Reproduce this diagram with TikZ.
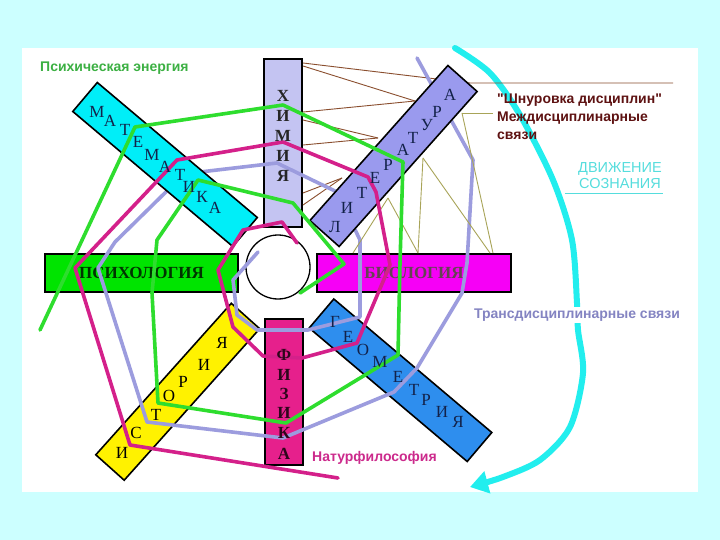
\documentclass[tikz,border=0pt]{standalone}
\usepackage{fontspec}
\setmainfont{Liberation Serif}
\newfontfamily\lsans{Liberation Sans}
\usetikzlibrary{arrows.meta}
\definecolor{bgcyan}{HTML}{CCFFFF}
\definecolor{himcol}{HTML}{C4C4F2}
\definecolor{litcol}{HTML}{9A9AEE}
\definecolor{matcol}{HTML}{00EEF8}
\definecolor{psycol}{HTML}{00E400}
\definecolor{biocol}{HTML}{F600F6}
\definecolor{istcol}{HTML}{FFF200}
\definecolor{geocol}{HTML}{2E8EEE}
\definecolor{fizcol}{HTML}{E6208C}
\definecolor{greenline}{HTML}{2EDD2E}
\definecolor{magline}{HTML}{D4208A}
\definecolor{lavline}{HTML}{9C9CDE}
\definecolor{brownline}{HTML}{8A4E2E}
\definecolor{oliveline}{HTML}{A8A458}
\definecolor{arrowcyan}{HTML}{22EEEE}
\definecolor{lettercol}{HTML}{13224A}
\definecolor{psytext}{HTML}{3CB043}
\definecolor{shnur}{HTML}{5E1212}
\definecolor{transtext}{HTML}{8484C2}
\definecolor{natur}{HTML}{CC2A8C}
\definecolor{dvizh}{HTML}{55DDDD}
\tikzset{
  bar/.style={draw=black, line width=1.6pt, line join=miter},
  spiral/.style={line width=3.6pt, line join=round, line cap=round},
  thinbrown/.style={draw=brownline, line width=0.9pt},
  thinolive/.style={draw=oliveline, line width=0.9pt},
  barletter/.style={font=\fontsize{17}{17}\selectfont, text=lettercol, inner sep=0pt},
  boldletter/.style={font=\bfseries\fontsize{17}{17}\selectfont, text=black!85, inner sep=0pt},
  label/.style={font=\lsans\bfseries\fontsize{14}{18}\selectfont, inner sep=1pt},
}
\begin{document}
\begin{tikzpicture}[x=1pt,y=-1pt]
\fill[bgcyan] (0,0) rectangle (720,540);
\useasboundingbox (0,0) rectangle (720,540);
\fill[white] (22,48) rectangle (698,492);

% cyan arrow (movement of consciousness)
\draw[arrowcyan, line width=6pt, line cap=round, -{Triangle[length=18pt,width=22pt]}]
  plot[smooth, tension=0.5] coordinates {(455,48) (490,73) (520,115) (553,180) (572,240) (577,303) (578,330) (583,373) (570,427) (540,460) (503,477) (470,487)};

% horizontal and vertical bars
\draw[bar, fill=psycol] (45,254) rectangle (238,292) node[midway, font=\bfseries\fontsize{17}{17}\selectfont, text=black!80!green] (psy) {ПСИХОЛОГИЯ};
\draw[bar, fill=biocol] (317,254) rectangle (511,292) node[midway, font=\bfseries\fontsize{17}{17}\selectfont, text=black!70!magenta] (bio) {БИОЛОГИЯ};
\draw[bar, fill=himcol] (264,59) rectangle (302,227);
\draw[bar, fill=fizcol] (265,319) rectangle (303,465);
\draw[bar, fill=istcol] (95.8,454.8) -- (231.3,303.3) -- (259.7,328.7) -- (124.2,480.2) -- cycle;
\draw[bar, fill=geocol] (333.8,299) -- (491.8,432.5) -- (467.2,461.5) -- (309.2,328) -- cycle;

% centre circle
\draw[line width=1.3pt, fill=white] (278,267) circle (32);

% brown lines (interdisciplinary lacing)
\draw[thinbrown] (303,63) -- (470,83) -- (673,83);
\draw[thinbrown] (303,66) -- (415,101);
\draw[thinbrown] (303,112) -- (415,101);
\draw[thinbrown] (303,120) -- (378,138);
\draw[thinbrown] (303,145) -- (378,138);
\draw[thinbrown] (303,193) -- (342,178);
\draw[thinbrown] (303,205) -- (342,178);

% lavender spiral (goes under mathematics and literature)
\draw[spiral, lavline] (417,58) -- (473,160) -- (467,263) -- (462,293) -- (417,368) -- (394,392) -- (283,438) -- (147,422) -- (98,268) -- (115,242) -- (175,183) -- (200,172) -- (277,163) -- (337,192) -- (360,240) -- (360,317) -- (308,330) -- (257,330) -- (237,315) -- (233,280) -- (258,252);

\draw[bar, fill=matcol] (97.3,82.5) -- (257.3,217.5) -- (232.8,246.5) -- (72.8,111.5) -- cycle;
\draw[bar, fill=litcol] (339.1,246.5) -- (309.9,220.5) -- (447.9,65.5) -- (477.1,91.5) -- cycle;

% olive lines
\draw[thinolive] (462,113) -- (493,113);
\draw[thinolive] (462,113) -- (493,253);
\draw[thinolive] (423,158) -- (418,253);
\draw[thinolive] (423,158) -- (490,253);
\draw[thinolive] (388,198) -- (418,253);
\draw[thinolive] (388,198) -- (353,253);

% magenta spiral
\draw[spiral, magline] (338,478) -- (130,445) -- (75,268) -- (177,160) -- (283,142) -- (368,177) -- (376,192) -- (390,265) -- (357,343) -- (302,358) -- (263,356) -- (233,327) -- (218,270) -- (243,230) -- (282,222) -- (297,243);

% green spiral
\draw[spiral, greenline] (40,330) -- (135,127) -- (283,105) -- (403,162) -- (400,263) -- (398,355) -- (286,423) -- (158,403) -- (152,293) -- (157,240) -- (198,180) -- (293,203) -- (344,264) -- (300,293);

% letters
\foreach \ch/\x/\y [count=\i] in {М/97/112, А/110/121, Т/125/130, Е/138/142, М/152/155, А/165/167, Т/180/175, И/189/187, К/202/197, А/215/208}
  \node[barletter] (mat\i) at (\x,\y) {\ch};
\foreach \ch/\y [count=\i] in {Х/96, И/116, М/136, И/156, Я/176}
  \node[boldletter] (him\i) at (283,\y) {\ch};
\foreach \ch/\x/\y [count=\i] in {Л/335/227, И/347/208, Т/362/193, Е/375/178, Р/388/165, А/403/150, Т/413/138, У/427/125, Р/437/112, А/450/95}
  \node[barletter] (lit\i) at (\x,\y) {\ch};
\foreach \ch/\x/\y [count=\i] in {И/122/453, С/136/433, Т/156/415, О/169/396, Р/183/382, И/204/365, Я/222/343}
  \node[barletter, text=black] (ist\i) at (\x,\y) {\ch};
\foreach \ch/\x/\y [count=\i] in {Г/335/322, Е/348/337, О/363/350, М/380/362, Е/398/377, Т/414/390, Р/426/400, И/442/412, Я/458/422}
  \node[barletter] (geo\i) at (\x,\y) {\ch};
\foreach \ch/\y [count=\i] in {Ф/355, И/375, З/394, И/413, К/433, А/454}
  \node[boldletter, text=black!80!fizcol] (fiz\i) at (284,\y) {\ch};

% labels
\node[label, text=psytext, anchor=west] (psyen) at (39,68) {Психическая энергия};
\node[label, text=shnur, anchor=north west, align=left] (shn) at (496,93) {"Шнуровка дисциплин"\\Междисциплинарные\\связи};
\node[font=\lsans\fontsize{14.5}{16}\selectfont, text=dvizh, align=center, inner sep=1pt] (dv) at (620,176) {ДВИЖЕНИЕ\\СОЗНАНИЯ};
\draw[dvizh, line width=0.8pt] (565,193) -- (663,193);
\node[label, text=transtext, fill=white, inner sep=2pt] (trans) at (577,315) {Трансдисциплинарные связи};
\node[label, text=natur, anchor=west] (nat) at (311,458) {Натурфилософия};
\end{tikzpicture}
\end{document}
